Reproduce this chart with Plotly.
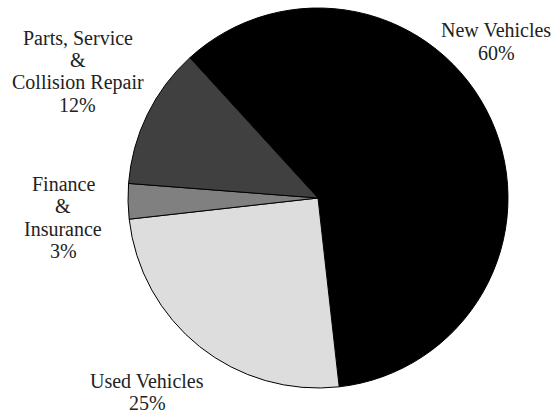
import plotly.graph_objects as go

# Dealership revenue mix
categories = ["New Vehicles", "Used Vehicles", "Finance & Insurance",
              "Parts, Service & Collision Repair"]
shares = [60, 25, 3, 12]
slice_colors = ["#000000", "#dddddd", "#808080", "#404040"]

W, H = 558, 417
LINE_GAP = 22.2          # px between stacked label lines
FONT_SIZE = 20

# Label blocks: centre x and vertical centre of the block, px from top-left
label_cx = [496, 147, 63, 77.5]
label_cy = [41.5, 392.3, 217.5, 71.5]

fig = go.Figure(
    go.Pie(
        labels=categories,
        values=shares,
        sort=False,
        direction="clockwise",
        rotation=-42.4,
        marker=dict(colors=slice_colors, line=dict(color="#000000", width=1)),
        textinfo="none",
        hoverinfo="label+percent",
        domain=dict(x=[128 / W, 508 / W], y=[29 / H, 409 / H]),
        showlegend=False,
    )
)

total = sum(shares)
for name, val, cx, cy in zip(categories, shares, label_cx, label_cy):
    parts = name.split(" & ")
    lines = []
    for i, p in enumerate(parts):
        if i:
            lines.append("&")
        lines.append(p)
    lines.append(f"{round(100 * val / total)}%")
    n = len(lines)
    for i, line in enumerate(lines):
        fig.add_annotation(
            x=cx / W, y=1 - cy / H, xref="paper", yref="paper",
            yshift=((n - 1) / 2 - i) * LINE_GAP,
            text=line, showarrow=False, borderpad=0,
            xanchor="center", yanchor="middle", align="center",
            font=dict(family="Liberation Serif", size=FONT_SIZE, color="#222222"),
        )

fig.update_layout(
    width=W, height=H,
    margin=dict(l=0, r=0, t=0, b=0),
    paper_bgcolor="white", plot_bgcolor="white",
)

fig.write_html("out.html")
